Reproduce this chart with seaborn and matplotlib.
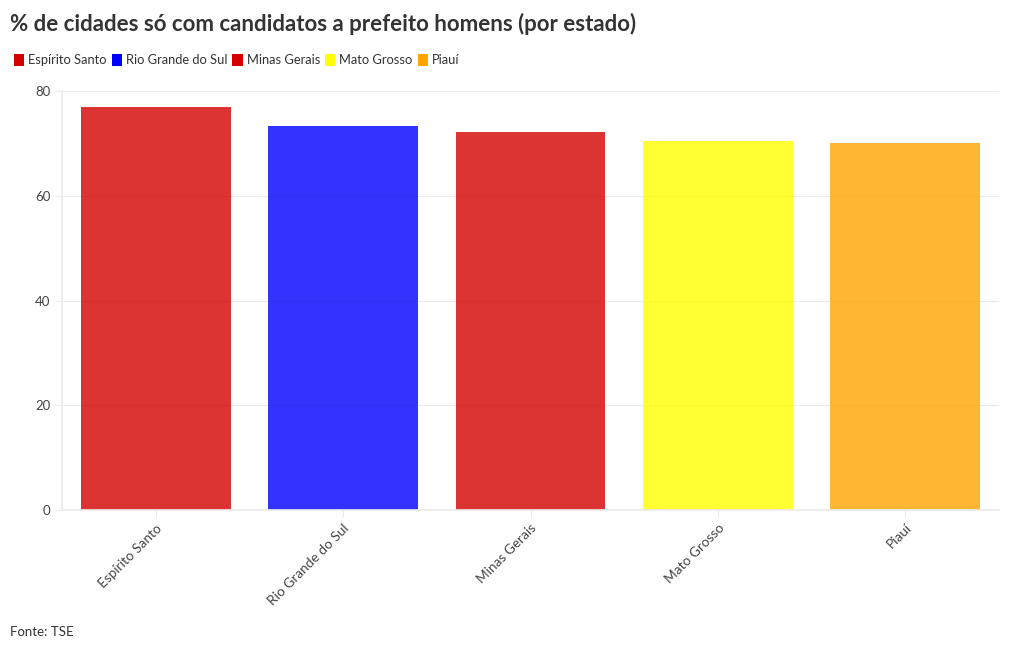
import matplotlib
matplotlib.use("Agg")
import matplotlib.pyplot as plt
import seaborn as sns
import pandas as pd
from matplotlib.patches import Patch

estados = ["Espírito Santo", "Rio Grande do Sul", "Minas Gerais", "Mato Grosso", "Piauí"]
percentuais = [76.9, 73.3, 72.2, 70.4, 70.1]
cores = ["#d40000", "#0000ff", "#d40000", "#ffff00", "#ffa500"]
yticks = [0, 20, 40, 60, 80]

sns.set_theme(style="white")
plt.rcParams["font.family"] = ["Lato", "DejaVu Sans"]

df = pd.DataFrame({"estado": estados, "pct": percentuais})

fig = plt.figure(figsize=(10.2, 6.5), dpi=100)
ax = fig.add_axes([62/1020, 1-510/650, (999-62)/1020, (510-91)/650])

sns.barplot(data=df, x="estado", y="pct", hue="estado", palette=cores,
            alpha=0.8, width=0.8, legend=False, ax=ax, saturation=1, linewidth=0)

ax.set_ylim(0, 80)
ax.set_yticks(yticks)
ax.set_xlim(-0.5, len(estados) - 0.5)
ax.set_xlabel("")
ax.set_ylabel("")
ax.grid(axis="y", color="#ebebeb", linewidth=0.8)
ax.set_axisbelow(True)
for s in ["top", "right"]:
    ax.spines[s].set_visible(False)
ax.spines["left"].set_color("#ebebeb")
ax.spines["bottom"].set_color("#ebebeb")
ax.tick_params(axis="y", colors="#ebebeb", labelcolor="#444444", labelsize=9.5,
               length=5, width=0.8, left=True)
ax.tick_params(axis="x", colors="#ebebeb", labelcolor="#444444", labelsize=9.8,
               length=5, width=0.8, bottom=True)
plt.setp(ax.get_xticklabels(), rotation=45, ha="right", rotation_mode="anchor")

fig.text(10/1020, 1-24/650, "% de cidades só com candidatos a prefeito homens (por estado)",
         fontsize=16, fontweight="bold", color="#333333", va="center", ha="left")

handles = [Patch(facecolor=c, edgecolor="none") for c in cores]
fig.legend(handles, estados, loc="center left", bbox_to_anchor=(2/1020, 1-60/650),
           ncol=5, frameon=False, fontsize=9.3, handlelength=0.8, handleheight=1.1,
           handletextpad=0.3, columnspacing=0.4, labelcolor="#333333")

fig.text(10/1020, 1-632/650, "Fonte: TSE", fontsize=9.5, color="#333333",
         va="center", ha="left")

fig.savefig("out.png", dpi=100)
